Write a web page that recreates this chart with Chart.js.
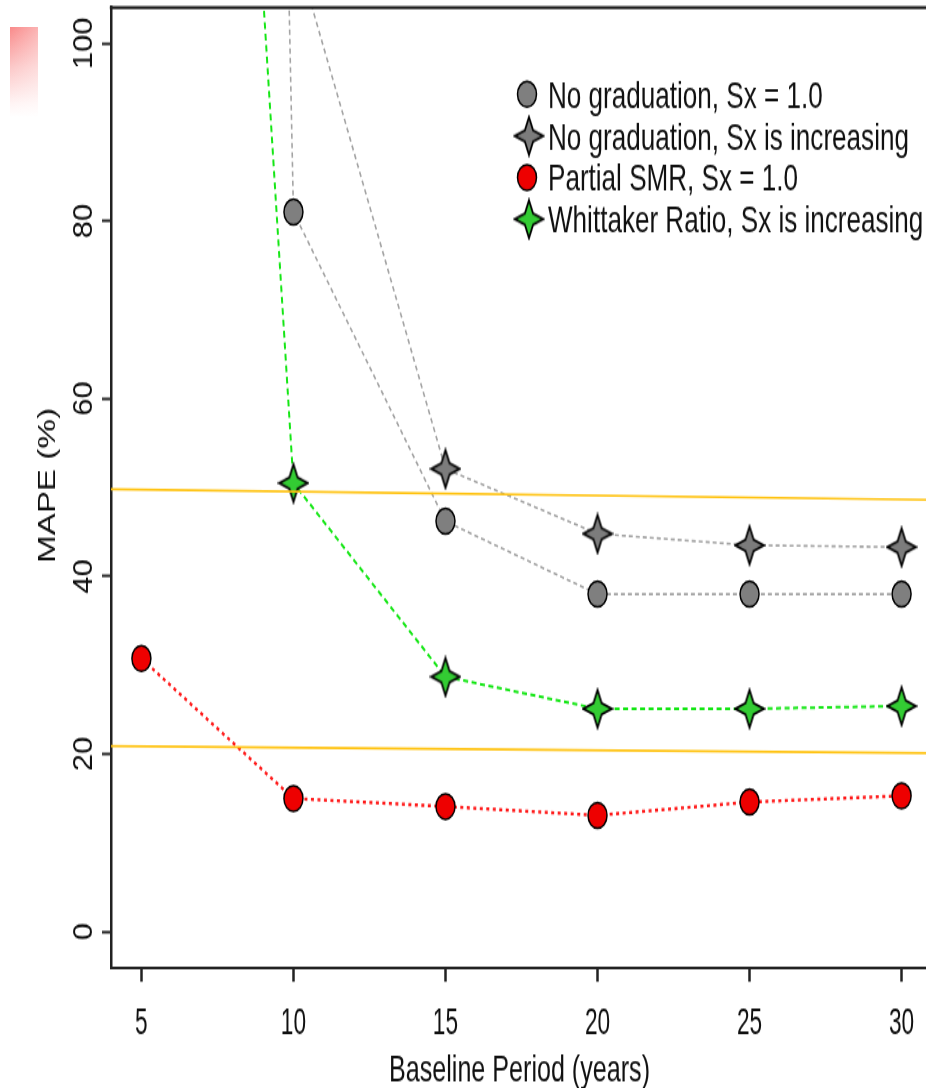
<!DOCTYPE html>
<html>
<head>
<meta charset="utf-8">
<title>MAPE by baseline period</title>
<script src="https://cdn.jsdelivr.net/npm/chart.js@4.4.1/dist/chart.umd.min.js"></script>
<style>
  html, body { margin: 0; padding: 0; background: #ffffff; overflow: hidden; width: 926px; height: 1088px; }
  /* the plot is drawn on a shorter canvas and stretched vertically */
  #wrap { position: absolute; left: 0; top: 0; width: 940px; height: 806px; transform-origin: 0 0; transform: scale(1, 1.35); }
  #tag { position: absolute; left: 10px; top: 27px; width: 28px; height: 90px;
         background: linear-gradient(to right, rgba(255,255,255,0) 0%, rgba(255,255,255,0.35) 100%),
                     linear-gradient(to bottom, #f98a8a 0%, #fcc8c8 45%, #fff4f4 85%, #ffffff 100%); }
</style>
</head>
<body>
<div id="wrap"><canvas id="chart" width="940" height="806"></canvas></div>
<div id="tag"></div>
<script>
// Baseline period (years)
const years = [5, 10, 15, 20, 25, 30];

// MAPE (%) for each method
const noGradFlat      = [900, 81.0, 46.2, 38.0, 38.0, 38.0];
const noGradRising    = [null, 111.3, 52.1, 44.8, 43.5, 43.3];
const partialSmrFlat  = [30.75, 15.0, 14.1, 13.1, 14.6, 15.3];
const whittakerRising = [325, 50.5, 28.7, 25.1, 25.1, 25.4];

// Reference lines (value at the left and right edges of the plot)
const refLineYears = [4, 31];
const upperRefLine = [49.8, 48.6];
const lowerRefLine = [20.9, 20.1];

// Axis ticks and labels
const xTickValues = [5, 10, 15, 20, 25, 30];
const yTickValues = [0, 20, 40, 60, 80, 100];
const seriesLabels = [
  'No graduation, Sx = 1.0',
  'No graduation, Sx is increasing',
  'Partial SMR, Sx = 1.0',
  'Whittaker Ratio, Sx is increasing'
];
const xTitle = 'Baseline Period (years)';
const yTitle = 'MAPE (%)';

const FONT = '"Liberation Sans", Arial, Helvetica, sans-serif';
const INK = '#101010';

// four-pointed star marker
function makeStar(fill) {
  const c = document.createElement('canvas');
  c.width = 32; c.height = 32;
  const g = c.getContext('2d');
  const cx = 16, cy = 16, R = 14, r = 5.8;
  g.beginPath();
  for (let k = 0; k < 8; k++) {
    const a = -Math.PI / 2 + k * Math.PI / 4;
    const rad = k % 2 === 0 ? R : r;
    g.lineTo(cx + rad * Math.cos(a), cy + rad * Math.sin(a));
  }
  g.closePath();
  g.fillStyle = fill; g.fill();
  g.lineWidth = 1.8; g.strokeStyle = '#000'; g.lineJoin = 'miter'; g.stroke();
  return c;
}
const greyStar = makeStar('#7c7c7c');
const greenStar = makeStar('#33cc33');

const pts = (vals) => years.map((x, i) => ({ x: x, y: vals[i] }));
const refPts = (vals) => refLineYears.map((x, i) => ({ x: x, y: vals[i] }));

const series = [
  { label: seriesLabels[0], data: pts(noGradFlat), borderColor: '#a3a3a3', borderWidth: 1.6, borderDash: [4, 3],
    pointStyle: 'circle', pointRadius: 9.5, pointBackgroundColor: '#7f7f7f', pointBorderColor: '#000', pointBorderWidth: 1.5, order: 4 },
  { label: seriesLabels[1], data: pts(noGradRising), borderColor: '#a3a3a3', borderWidth: 1.6, borderDash: [4, 3],
    pointStyle: greyStar, pointRadius: 14, pointBackgroundColor: '#7c7c7c', pointBorderColor: '#000', order: 3 },
  { label: seriesLabels[2], data: pts(partialSmrFlat), borderColor: '#ff1a1a', borderWidth: 2.4, borderDash: [3, 3.5],
    pointStyle: 'circle', pointRadius: 9.5, pointBackgroundColor: '#ee0000', pointBorderColor: '#000', pointBorderWidth: 1.5, order: 2 },
  { label: seriesLabels[3], data: pts(whittakerRising), borderColor: '#14e614', borderWidth: 2, borderDash: [5, 3.5],
    pointStyle: greenStar, pointRadius: 14, pointBackgroundColor: '#33cc33', pointBorderColor: '#000', order: 1 }
];
const refLines = [
  { label: 'upper', data: refPts(upperRefLine), borderColor: '#ffc20e', borderWidth: 1.6, pointRadius: 0, order: 0, isRef: true },
  { label: 'lower', data: refPts(lowerRefLine), borderColor: '#ffc20e', borderWidth: 1.6, pointRadius: 0, order: 0, isRef: true }
];

// text helper: optional rotation and horizontal squeeze along the text direction
function drawLabel(ctx, str, x, y, o) {
  ctx.save();
  ctx.translate(x, y);
  if (o.rotate) ctx.rotate(-Math.PI / 2);
  ctx.scale(o.squeeze || 1, 1);
  ctx.font = `${o.size}px ${FONT}`;
  ctx.fillStyle = o.color || INK;
  ctx.textAlign = o.align || 'left';
  ctx.textBaseline = 'alphabetic';
  ctx.fillText(str, 0, 0);
  ctx.restore();
}

const decorations = {
  id: 'decorations',
  afterDraw(chart) {
    const ctx = chart.ctx;
    const area = chart.chartArea;
    const xs = chart.scales.x, ys = chart.scales.y;

    // top border of the plot box
    ctx.save();
    ctx.strokeStyle = '#222'; ctx.lineWidth = 2.2;
    ctx.beginPath(); ctx.moveTo(area.left - 1.2, area.top); ctx.lineTo(area.right, area.top); ctx.stroke();
    ctx.restore();

    // x tick labels
    xs.ticks.forEach(t => {
      drawLabel(ctx, String(t.value), xs.getPixelForValue(t.value), 766, { size: 28, squeeze: 0.81, align: 'center' });
    });
    // x title
    drawLabel(ctx, xTitle, (area.left + area.right) / 2 - 2, 801.3, { size: 27.6, squeeze: 0.91, align: 'center' });

    // y tick labels, written along the axis
    ys.ticks.forEach(t => {
      drawLabel(ctx, String(t.value), 92, ys.getPixelForValue(t.value), { size: 28, squeeze: 0.82, align: 'center', rotate: true });
    });
    // y title
    drawLabel(ctx, yTitle, 55, (area.top + area.bottom) / 2 - 1.5, { size: 23, squeeze: 1.07, align: 'center', rotate: true });

    // legend
    chart.data.datasets.filter(d => !d.isRef).forEach((d, i) => {
      const cy = (94.3 + 41.6 * i) / 1.35;
      ctx.save();
      if (d.pointStyle === 'circle') {
        ctx.beginPath();
        ctx.arc(527, cy, 9.5, 0, Math.PI * 2);
        ctx.fillStyle = d.pointBackgroundColor; ctx.fill();
        ctx.lineWidth = 1.5; ctx.strokeStyle = '#000'; ctx.stroke();
      } else {
        ctx.drawImage(d.pointStyle, 529 - 16, cy - 16);
      }
      ctx.restore();
      drawLabel(ctx, d.label, 548, cy + 10, { size: 28.5, squeeze: 0.915 });
    });
  }
};

new Chart(document.getElementById('chart'), {
  type: 'line',
  data: { datasets: refLines.concat(series) },
  options: {
    responsive: false,
    animation: false,
    devicePixelRatio: 1,
    layout: { autoPadding: false, padding: { top: 5.7, right: 8, bottom: 0, left: 0 } },
    datasets: { line: { clip: 0, tension: 0, fill: false, spanGaps: false } },
    plugins: { legend: { display: false }, tooltip: { enabled: false } },
    scales: {
      x: {
        type: 'linear', min: 4, max: 31,
        afterBuildTicks: (s) => { s.ticks = xTickValues.map(v => ({ value: v })); },
        afterFit: (s) => { s.height = 89.5; },
        ticks: { display: false },
        grid: { drawOnChartArea: false, drawTicks: true, tickLength: 10.7, tickWidth: 2.5, tickColor: '#222' },
        border: { display: true, color: '#222', width: 2 }
      },
      y: {
        type: 'linear', min: -4, max: 104,
        afterBuildTicks: (s) => { s.ticks = yTickValues.map(v => ({ value: v })); },
        afterFit: (s) => { s.width = 111; },
        ticks: { display: false },
        grid: { drawOnChartArea: false, drawTicks: true, tickLength: 9, tickWidth: 2, tickColor: '#222' },
        border: { display: true, color: '#222', width: 2.5 }
      }
    }
  },
  plugins: [decorations]
});
</script>
</body>
</html>
